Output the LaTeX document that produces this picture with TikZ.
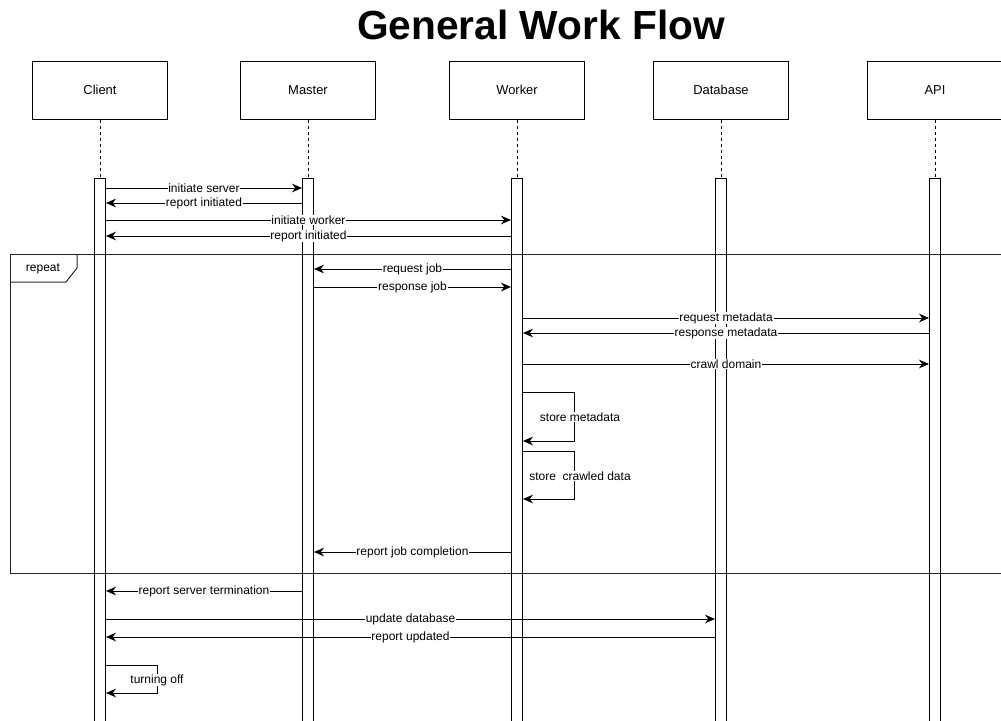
\documentclass[tikz,border=0pt]{standalone}
\usepackage{fontspec}
\setmainfont{Liberation Sans}
\usetikzlibrary{arrows.meta}

\tikzset{
  actor/.style={draw, line width=0.75pt, fill=white, minimum width=101.5pt,
    minimum height=43.5pt, inner sep=0pt, font=\fontsize{9.7}{11}\selectfont},
  bar/.style={draw, line width=0.75pt, fill=white, minimum width=8.25pt,
    minimum height=420pt, inner sep=0pt, anchor=north},
  life/.style={line width=0.75pt, dash pattern=on 2.25pt off 2.25pt},
  msg/.style={line width=0.75pt, -{Stealth[length=7.5pt, width=6.5pt, inset=2.4pt]}},
  lbl/.style={fill=white, inner sep=0.6pt, font=\fontsize{9}{10}\selectfont},
  frame/.style={line width=0.75pt, draw=black!85}
}

\begin{document}
\begin{tikzpicture}[x=0.75pt, y=-0.75pt]
\useasboundingbox (0,0) rectangle (1001,721);
\clip (0,0) rectangle (1001,721);

% title
\node[anchor=base, font=\bfseries\fontsize{30.5}{36}\selectfont] (title) at (541,40) {General Work Flow};

% participants
\node[actor] (client)   at (100,90)  {Client};
\node[actor] (master)   at (308,90)  {Master};
\node[actor] (worker)   at (517,90)  {Worker};
\node[actor] (database) at (721,90)  {Database};
\node[actor] (api)      at (935,90)  {API};

% activation bars
\node[bar] (bclient)   at (100,178) {};
\node[bar] (bmaster)   at (308,178) {};
\node[bar] (bworker)   at (517,178) {};
\node[bar] (bdatabase) at (721,178) {};
\node[bar] (bapi)      at (935,178) {};

% lifelines
\draw[life] (client.south)   -- (bclient.north);
\draw[life] (master.south)   -- (bmaster.north);
\draw[life] (worker.south)   -- (bworker.north);
\draw[life] (database.south) -- (bdatabase.north);
\draw[life] (api.south)      -- (bapi.north);

% repeat frame
\coordinate (ftl) at (10,254);
\coordinate (fbl) at (10,573);
\draw[frame] (1010,254) -- (ftl) -- (fbl) -- (1010,573);
\draw[frame] (77,254) -- (77,268) -- (66,282) -- (10,282);
\node[font=\fontsize{9}{10}\selectfont] (rep) at (43,269) {repeat};

% messages
\draw[msg] (bclient.east |- 0,188) -- node[lbl] {initiate server} (bmaster.west |- 0,188);
\draw[msg] (bmaster.west |- 0,203) -- node[lbl] {report initiated} (bclient.east |- 0,203);
\draw[msg] (bclient.east |- 0,220) -- node[lbl] {initiate worker} (bworker.west |- 0,220);
\draw[msg] (bworker.west |- 0,236) -- node[lbl] {report initiated} (bclient.east |- 0,236);

\draw[msg] (bworker.west |- 0,269) -- node[lbl] {request job} (bmaster.east |- 0,269);
\draw[msg] (bmaster.east |- 0,287) -- node[lbl] {response job} (bworker.west |- 0,287);

\draw[msg] (bworker.east |- 0,318) -- node[lbl] {request metadata} (bapi.west |- 0,318);
\draw[msg] (bapi.west |- 0,333) -- node[lbl] {response metadata} (bworker.east |- 0,333);
\draw[msg] (bworker.east |- 0,364) -- node[lbl] {crawl domain} (bapi.west |- 0,364);

% self calls on the worker
\draw[msg] (bworker.east |- 0,392) -- (574,392) -- (574,441) -- (bworker.east |- 0,441);
\node[lbl] (sm) at (580,417) {store metadata};
\draw[msg] (bworker.east |- 0,451) -- (574,451) -- (574,499) -- (bworker.east |- 0,499);
\node[lbl] (sc) at (580,476) {store\ \ crawled data};

\draw[msg] (bworker.west |- 0,552) -- node[lbl] {report job completion} (bmaster.east |- 0,552);

\draw[msg] (bmaster.west |- 0,591) -- node[lbl] {report server termination} (bclient.east |- 0,591);
\draw[msg] (bclient.east |- 0,619) -- node[lbl] {update database} (bdatabase.west |- 0,619);
\draw[msg] (bdatabase.west |- 0,637) -- node[lbl] {report updated} (bclient.east |- 0,637);

% self call on the client
\draw[msg] (bclient.east |- 0,665) -- (157,665) -- (157,693) -- (bclient.east |- 0,693);
\node[lbl] (off) at (157,680) {turning off};
\end{tikzpicture}
\end{document}
